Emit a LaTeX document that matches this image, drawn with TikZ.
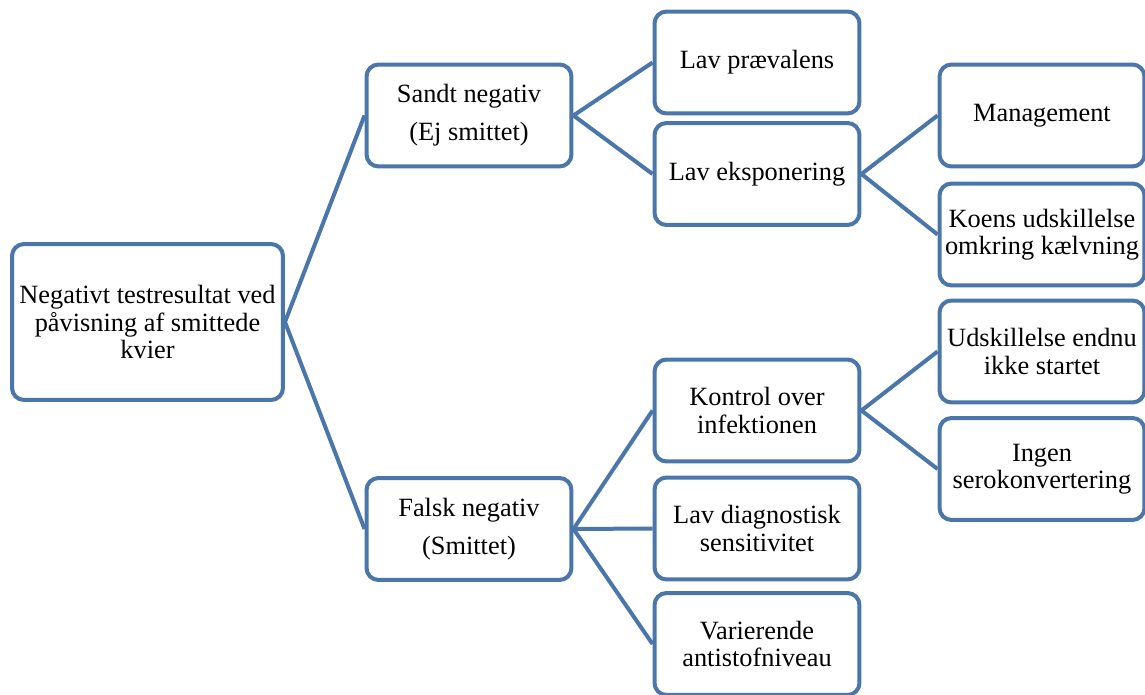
\documentclass[tikz,border=0pt]{standalone}
\usepackage{fontspec}
\setmainfont{Liberation Serif}
\usepackage{tikz}
\usetikzlibrary{positioning}
\definecolor{boxblue}{RGB}{74, 118, 170}

\begin{document}
\begin{tikzpicture}[x=0.02cm, y=-0.02cm, font=\fontsize{15}{15.6}\selectfont,
        n/.style={rectangle, rounded corners=0.24cm, draw=boxblue, line width=0.08cm, fill=white,
                  minimum width=4.1cm, minimum height=2.04cm, align=center, inner sep=1pt},
        link/.style={line width=0.08cm, boxblue}]
        \useasboundingbox (0,0) rectangle (1145,695);
        \node[n, minimum width=5.42cm, minimum height=3.12cm] (root) at (147.5,322)
            {Negativt testresultat ved\\påvisning af smittede\\kvier};
        \node[n] (sandt) at (469,115.5) {Sandt negativ\\[6pt](Ej smittet)};
        \node[n] (falsk) at (469,529)   {Falsk negativ\\[6pt](Smittet)};
        \node[n] (lavp)  at (757,62.5)  {Lav prævalens};
        \node[n] (lave)  at (757,174)   {Lav eksponering};
        \node[n] (kontr) at (757,410.5) {Kontrol over\\infektionen};
        \node[n] (lavd)  at (757,528.5) {Lav diagnostisk\\sensitivitet};
        \node[n] (varie) at (757,644)   {Varierende\\antistofniveau};
        \node[n] (mgmt)  at (1042,115.5){Management};
        \node[n] (koens) at (1042,234.5){Koens udskillelse\\omkring kælvning};
        \node[n] (udsk)  at (1042,351.5){Udskillelse endnu\\ikke startet};
        \node[n] (ingen) at (1042,469)  {Ingen\\serokonvertering};
        \foreach \a/\b in {root/sandt, root/falsk, sandt/lavp, sandt/lave, lave/mgmt, lave/koens,
                           falsk/kontr, falsk/lavd, falsk/varie, kontr/udsk, kontr/ingen}
            \draw[link] (\a.east) -- (\b.west);
    \end{tikzpicture}
\end{document}
